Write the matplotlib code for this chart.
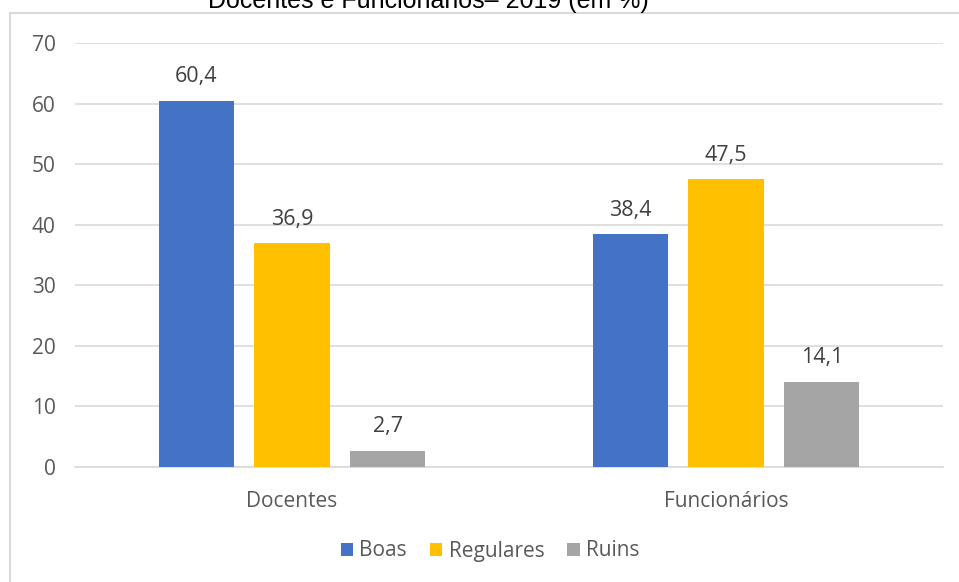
import matplotlib.pyplot as plt
from matplotlib.patches import Rectangle
import numpy as np

categories = ["Docentes", "Funcionários"]
series = ["Boas", "Regulares", "Ruins"]
boas = [60.4, 38.4]
regulares = [36.9, 47.5]
ruins = [2.7, 14.1]
colors = ["#4472C4", "#FFC000", "#A5A5A5"]

W, H = 959, 582
fig = plt.figure(figsize=(W / 100, H / 100), dpi=100)
plt.rcParams['font.family'] = ['Open Sans', 'DejaVu Sans']

# chart frame (cut off on the right and bottom)
fig.patches.append(Rectangle((10 / W, -0.05), 1.0, (H - 13) / H + 0.05,
                             transform=fig.transFigure, fill=False,
                             edgecolor="#d9d9d9", linewidth=1.5))

fig.text(428 / W, (H - 8) / H, "Docentes e Funcionários– 2019 (em %)",
         ha="center", va="baseline", fontsize=18, family="Liberation Sans",
         color="black")

ax = fig.add_axes([75 / W, (H - 467) / H, 868 / W, 424 / H])
x = np.arange(len(categories))
width = 0.173
offset = 0.221
for i, (vals, name) in enumerate(zip([boas, regulares, ruins], series)):
    bars = ax.bar(x + (i - 1) * offset, vals, width, color=colors[i],
                  label=name, zorder=3)
    for b, v in zip(bars, vals):
        ax.text(b.get_x() + b.get_width() / 2, v + 3.1,
                ("%.1f" % v).replace(".", ","), ha="center", va="baseline",
                fontsize=15.5, color="#404040")

ax.set_xlim(-0.5, 1.5)
ax.set_ylim(0, 70)
ax.set_yticks(range(0, 71, 10))
ax.set_xticks(x)
ax.set_xticklabels(categories)
ax.grid(axis="y", color="#d9d9d9", linewidth=1.2, zorder=0)
for s in ["top", "right", "left"]:
    ax.spines[s].set_visible(False)
ax.spines["bottom"].set_color("#d9d9d9")
ax.spines["bottom"].set_linewidth(1.2)
ax.tick_params(axis="both", length=0, labelsize=15, colors="#595959")
ax.tick_params(axis="y", pad=14)
ax.tick_params(axis="x", pad=17)

leg = fig.legend(loc="center", bbox_to_anchor=(490 / W, (H - 551) / H),
                 ncol=3, frameon=False, fontsize=15, handlelength=0.6,
                 handleheight=0.6, columnspacing=1.1, handletextpad=0.3)
for t in leg.get_texts():
    t.set_color("#595959")

fig.savefig("out.png", dpi=100)
